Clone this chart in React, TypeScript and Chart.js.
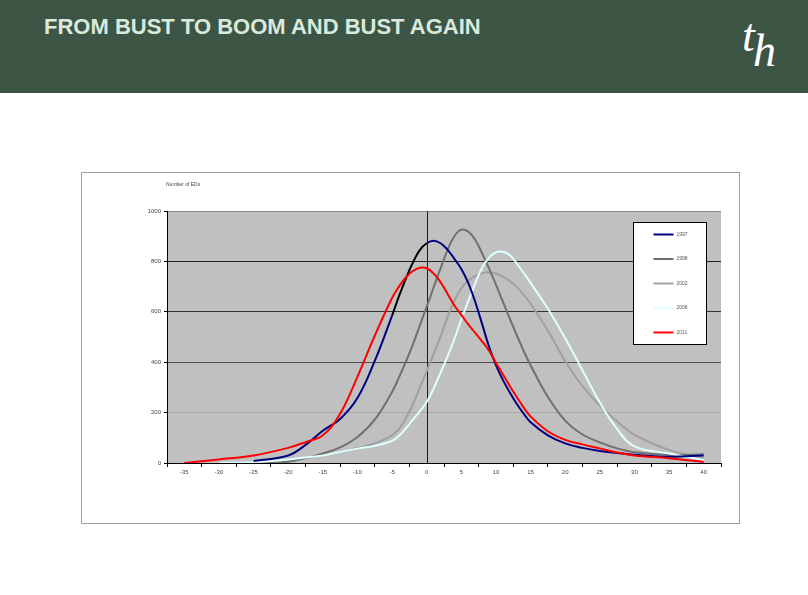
import React, { useEffect, useRef } from "react";
import { Chart, registerables } from "chart.js";

Chart.register(...registerables);

// x positions (change, %) shared by every series
const xValues = [-35, -30, -25, -20, -17.5, -15, -12.5, -10, -7.5, -5, -4, -3, -2, -1, 0, 1, 2, 3, 4, 5, 6, 7, 8, 9, 10, 11, 12, 13, 14, 15, 17.5, 20, 22.5, 25, 27.5, 30, 35, 40];

const seriesLabels = ["1997", "1998", "2002", "2008", "2011"];

const s1997 = [null, null, 8, 30, 72, 128, 175, 258, 405, 585, 662, 732, 795, 845, 872, 882, 872, 847, 810, 770, 715, 640, 552, 462, 388, 330, 280, 235, 196, 162, 110, 78, 60, 48, 40, 33, 25, 30];
const s1998 = [null, null, 0, 5, 20, 38, 62, 103, 172, 282, 340, 402, 470, 545, 620, 697, 772, 845, 900, 926, 918, 886, 832, 772, 708, 640, 573, 508, 445, 388, 262, 168, 113, 82, 58, 43, 32, 35];
const s2002 = [null, null, 0, 10, 20, 30, 43, 60, 78, 110, 135, 178, 232, 298, 365, 432, 502, 578, 645, 693, 724, 742, 753, 757, 752, 740, 722, 698, 668, 632, 525, 405, 305, 228, 165, 112, 52, 19];
const s2008 = [null, 0, 3, 14, 22, 30, 44, 57, 68, 88, 108, 138, 172, 205, 242, 295, 358, 422, 492, 570, 642, 712, 775, 815, 836, 838, 825, 792, 754, 715, 612, 495, 368, 240, 135, 66, 38, 12];
const s2011 = [0, 14, 30, 60, 83, 110, 195, 342, 505, 655, 700, 737, 762, 775, 773, 752, 718, 672, 625, 588, 550, 517, 483, 446, 398, 352, 306, 262, 221, 185, 126, 92, 74, 58, 42, 30, 19, 4];

const xTickLabels = [-35, -30, -25, -20, -15, -10, -5, 0, 5, 10, 15, 20, 25, 30, 35, 40];
const yTickLabels = [0, 200, 400, 600, 800, 1000];

const seriesValues = [s1997, s1998, s2002, s2008, s2011];
const seriesColors = ["#000080", "#707070", "#a0a0a0", "#e0ffff", "#ff0000"];
const seriesOrder = [1, 3, 4, 2, 0];
const yGridColors = ["#000000", "#a9a9a9", "#505050", "#333333", "#222222", "#8a8a8a"];

const FONT = '"Liberation Sans", Arial, sans-serif';

const toPoints = (vals: (number | null)[]) =>
  xValues
    .map((x, i) => ({ x, y: vals[i] }))
    .filter((p) => p.y !== null) as { x: number; y: number }[];

const plotBgPlugin = {
  id: "plotBg",
  beforeDraw(chart: any) {
    const { ctx, chartArea } = chart;
    ctx.save();
    ctx.fillStyle = "#c0c0c0";
    ctx.fillRect(chartArea.left, chartArea.top, chartArea.right - chartArea.left, chartArea.bottom - chartArea.top);
    ctx.restore();
  },
};

const zeroLinePlugin = {
  id: "zeroLine",
  beforeDatasetsDraw(chart: any) {
    const { ctx, chartArea, scales } = chart;
    const px = Math.round(scales.x.getPixelForValue(0)) + 0.5;
    ctx.save();
    ctx.strokeStyle = "#1a1a1a";
    ctx.lineWidth = 1;
    ctx.beginPath();
    ctx.moveTo(px, chartArea.top);
    ctx.lineTo(px, chartArea.bottom);
    ctx.stroke();
    ctx.restore();
  },
};

const extrasPlugin = {
  id: "extras",
  afterDraw(chart: any) {
    const { ctx, chartArea } = chart;
    ctx.save();
    ctx.fillStyle = "#444";
    ctx.font = `5px ${FONT}`;
    ctx.textBaseline = "middle";
    ctx.textAlign = "left";
    ctx.fillText("Number of EDs", chartArea.left - 1, chartArea.top - 26);
    const w = 73;
    const h = 122;
    const left = Math.round(chartArea.right - 15 - w) + 0.5;
    const top = Math.round(chartArea.top + 11) + 0.5;
    ctx.fillStyle = "#ffffff";
    ctx.fillRect(left, top, w, h);
    ctx.strokeStyle = "#000";
    ctx.lineWidth = 1;
    ctx.strokeRect(left, top, w, h);
    chart.data.datasets.forEach((ds: any, i: number) => {
      const y = top + 12 + i * 24.5;
      ctx.strokeStyle = ds.borderColor;
      ctx.lineWidth = 2;
      ctx.beginPath();
      ctx.moveTo(left + 20, y);
      ctx.lineTo(left + 40, y);
      ctx.stroke();
      ctx.fillStyle = "#555";
      ctx.font = `5px ${FONT}`;
      ctx.fillText(ds.label, left + 43, y);
    });
    ctx.restore();
  },
};

export default function App() {
  const ref = useRef<HTMLCanvasElement>(null);

  useEffect(() => {
    if (!ref.current) return;
    const datasets = seriesLabels.map((label, i) => ({
      label,
      data: toPoints(seriesValues[i]),
      borderColor: seriesColors[i],
      backgroundColor: seriesColors[i],
      borderWidth: 2,
      pointRadius: 0,
      fill: false,
      order: seriesOrder[i],
      tension: 0.4,
      segment:
        i === 0
          ? {
              borderColor: (c: any) =>
                c.p0.parsed.x >= -5 && c.p1.parsed.x <= 0 ? "#000000" : undefined,
            }
          : undefined,
    }));

    const chart = new Chart(ref.current, {
      type: "line",
      data: { datasets },
      options: {
        animation: false,
        responsive: false,
        events: [],
        layout: { padding: { left: 55, right: 18, top: 38, bottom: 40 } },
        plugins: { legend: { display: false }, tooltip: { enabled: false } },
        scales: {
          x: {
            type: "linear",
            min: -37.5,
            max: 42.5,
            afterBuildTicks: (s: any) => {
              s.ticks = xTickLabels.map((v) => ({ value: v }));
            },
            afterFit: (s: any) => {
              s.height = 20;
            },
            ticks: {
              autoSkip: false,
              maxRotation: 0,
              padding: 2,
              color: "#444",
              font: { size: 6, family: FONT },
              callback: (v: any) => String(v),
            },
            grid: {
              offset: true,
              drawOnChartArea: false,
              tickLength: 4,
              color: "#000",
            },
            border: { color: "#000", width: 1 },
          },
          y: {
            type: "linear",
            min: 0,
            max: 1000,
            afterBuildTicks: (s: any) => {
              s.ticks = yTickLabels.map((v) => ({ value: v }));
            },
            afterFit: (s: any) => {
              s.width = 30;
            },
            ticks: {
              padding: 3,
              color: "#444",
              font: { size: 6, family: FONT },
              callback: (v: any) => String(v),
            },
            grid: {
              color: (c: any) => yGridColors[c.index] || "#333",
              tickColor: "#000",
              tickLength: 3,
            },
            border: { color: "#000", width: 1 },
          },
        },
      },
      plugins: [plotBgPlugin, zeroLinePlugin, extrasPlugin],
    });
    return () => chart.destroy();
  }, []);

  return (
    <div
      style={{
        position: "absolute",
        left: 0,
        top: 0,
        width: 808,
        height: 595,
        background: "#ffffff",
        overflow: "hidden",
      }}
    >
      <div
        style={{
          position: "absolute",
          left: 0,
          top: 0,
          width: 808,
          height: 93,
          background: "#3d5545",
        }}
      >
        <div
          style={{
            position: "absolute",
            left: 44,
            top: 14,
            font: `bold 22px ${FONT}`,
            color: "#d9e9dc",
            whiteSpace: "nowrap",
          }}
        >
          FROM BUST TO BOOM AND BUST AGAIN
        </div>
        <span
          style={{
            position: "absolute",
            left: 742,
            top: 13,
            font: 'italic 46px "Liberation Serif", "DejaVu Serif", serif',
            lineHeight: "46px",
            color: "#ffffff",
          }}
        >
          t
        </span>
        <span
          style={{
            position: "absolute",
            left: 753,
            top: 28,
            font: 'italic 46px "Liberation Serif", "DejaVu Serif", serif',
            lineHeight: "46px",
            color: "#ffffff",
          }}
        >
          h
        </span>
      </div>
      <div
        style={{
          position: "absolute",
          left: 81,
          top: 172,
          width: 657,
          height: 350,
          border: "1px solid #a0a0a0",
          background: "#ffffff",
        }}
      >
        <canvas ref={ref} width={657} height={350} style={{ display: "block", width: 657, height: 350 }} />
      </div>
    </div>
  );
}
